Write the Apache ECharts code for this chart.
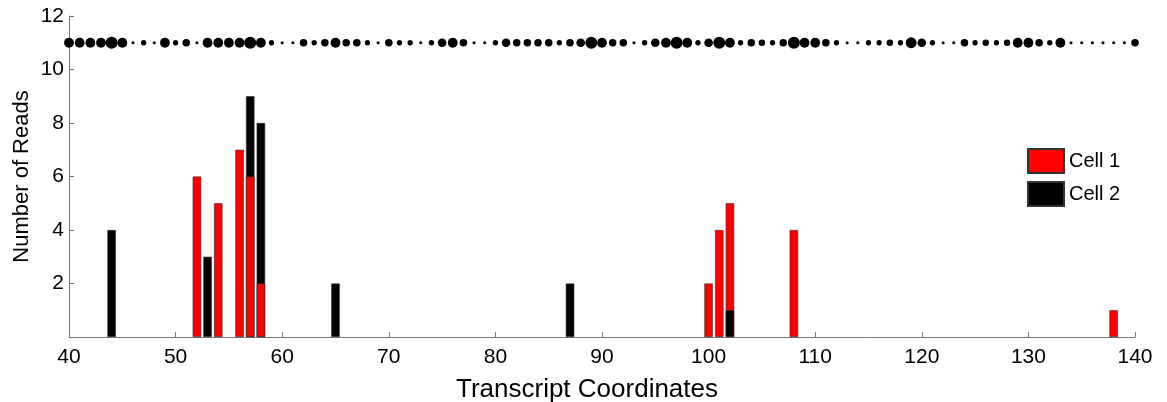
<!DOCTYPE html>
<html><head><meta charset="utf-8">
<script src="https://cdn.jsdelivr.net/npm/echarts@6/dist/echarts.min.js"></script>
<style>html,body{margin:0;padding:0;background:#fff}#c{width:1167px;height:402px}</style>
</head><body><div id="c"></div>
<script>
// Bar data (transcript coordinate, reads per cell)
const positions = [44, 52, 53, 54, 56, 57, 58, 65, 87, 100, 101, 102, 108, 138];
const cell1     = [ 0,  6,  0,  5,  7,  6,  2,  0,  0,   2,   4,   5,   4,   1];
const cell2     = [ 4,  0,  3,  0,  0,  9,  8,  2,  2,   0,   0,   1,   0,   0];

// Dot track at y = 11: coordinate and relative dot size level
const dotPositions = [];
for (let p = 40; p <= 140; p++) dotPositions.push(p);
const dotLevels = [
  4,4,4,4,5,4,1,2,1,4,   // 40-49
  2,3,1,4,4,4,4,5,4,2,   // 50-59
  1,1,3,2,3,4,3,3,2,1,   // 60-69
  3,2,2,1,2,3.5,4,3,1,1, // 70-79
  2,3.5,3,3,3,3,2,3,3.5,5, // 80-89
  4,3,3,1,2,3.5,4,5,4,2, // 90-99
  3.5,5,4,2,3,2.5,2,3,5,4, // 100-109
  4,3,2,1,1,2,2,2.5,2,4.5, // 110-119
  3.5,2,1,1,3,2,2.5,2,2.5,4, // 120-129
  4,3,2,4,1,1,1,1,1,1,   // 130-139
  3                      // 140
];
const dotY = 11;
const xTickMin = 40, xTickMax = 140, xTickStep = 10;
const yTickMin = 0, yTickMax = 12, yTickStep = 2;

const RED = '#ff0000', BLACK = '#000000';
const back1 = [], front1 = [], back2 = [], front2 = [];
positions.forEach((x, i) => {
  const a = cell1[i], b = cell2[i];
  if (a > 0) (a >= b ? back1 : front1).push([x, a]);
  if (b > 0) (b > a ? back2 : front2).push([x, b]);
});
const dots = dotPositions.map((x, i) => [x, dotY, dotLevels[i]]);

function barSeries(name, data, color, z) {
  return {
    name, type: 'bar', data, z, barWidth: 8.5, barGap: '-100%',
    itemStyle: { color, borderColor: '#333', borderWidth: 0.6 },
    emphasis: { disabled: true }
  };
}

const chart = echarts.init(document.getElementById('c'), null, { renderer: 'canvas' });
const font = 'Liberation Sans, Arial, sans-serif';
chart.setOption({
  animation: false,
  backgroundColor: '#fff',
  textStyle: { fontFamily: font },
  grid: { left: 69, right: 32, top: 16, bottom: 65, containLabel: false, outerBoundsMode: 'none' },
  legend: {
    data: ['Cell 1', 'Cell 2'], orient: 'vertical', left: 1027, top: 148, padding: 0,
    icon: 'rect', itemWidth: 36, itemHeight: 24, itemGap: 7,
    textStyle: { fontSize: 20, color: '#000', fontFamily: font }
  },
  xAxis: {
    type: 'value', min: xTickMin, max: xTickMax, interval: xTickStep,
    name: 'Transcript Coordinates', nameLocation: 'middle', nameGap: 40, nameMoveOverlap: false,
    nameTextStyle: { fontSize: 26, color: '#000', fontFamily: font, padding: [0, 30, 0, 0] },
    axisLine: { onZero: false, lineStyle: { color: '#777', width: 1 } },
    axisTick: { inside: true, length: 5, lineStyle: { color: '#777' } },
    axisLabel: { fontSize: 21, color: '#000', margin: 10, fontFamily: font },
    splitLine: { show: false }
  },
  yAxis: {
    type: 'value', min: yTickMin, max: yTickMax, interval: yTickStep,
    name: 'Number of Reads', nameLocation: 'middle', nameGap: 36, nameMoveOverlap: false,
    nameTextStyle: { fontSize: 22, color: '#000', fontFamily: font },
    axisLine: { show: true, lineStyle: { color: '#777', width: 1 } },
    axisTick: { show: true, inside: true, length: 5, lineStyle: { color: '#777' } },
    axisLabel: { fontSize: 21, color: '#000', margin: 5, fontFamily: font,
      formatter: v => (v === 0 ? '' : String(v)) },
    splitLine: { show: false }
  },
  series: [
    barSeries('Cell 1', back1, RED, 2),
    barSeries('Cell 2', back2, BLACK, 2),
    barSeries('Cell 1', front1, RED, 3),
    barSeries('Cell 2', front2, BLACK, 3),
    {
      name: 'track', type: 'scatter', data: dots, z: 4,
      symbol: 'circle', symbolSize: d => 2.25 * d[2] + 0.8,
      itemStyle: { color: BLACK, opacity: 1 }, emphasis: { disabled: true }
    }
  ]
});
</script></body></html>
